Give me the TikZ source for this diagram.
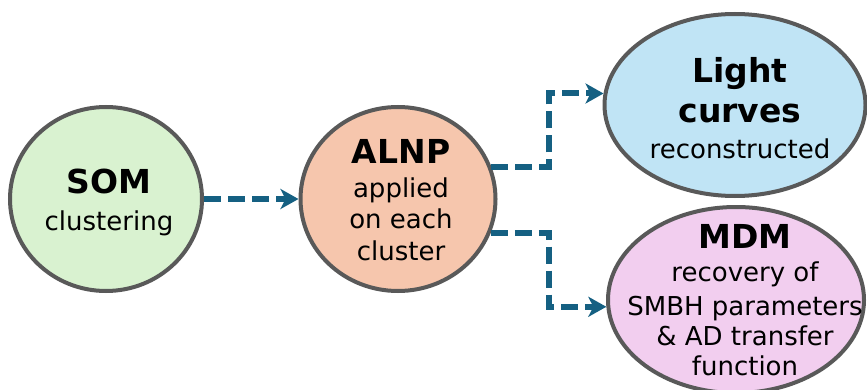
\documentclass[tikz,border=0pt]{standalone}
\usepackage{fontspec}
\setmainfont{DejaVu Sans}
\usetikzlibrary{arrows.meta,shapes.geometric}
\definecolor{somfill}{HTML}{D9F2D0}
\definecolor{alnpfill}{HTML}{F6C6AD}
\definecolor{lcfill}{HTML}{C0E4F5}
\definecolor{mdmfill}{HTML}{F2CEEF}
\definecolor{edgegray}{HTML}{595959}
\definecolor{flowblue}{HTML}{156082}

\begin{document}
\begin{tikzpicture}[x=1pt,y=1pt,
  blob/.style={ellipse, draw=edgegray, line width=4pt, inner sep=0pt},
  head/.style={anchor=base, inner sep=0pt, font=\fontsize{33}{36}\selectfont\bfseries},
  body/.style={anchor=base, inner sep=0pt, font=\fontsize{26}{30}\selectfont},
  flow/.style={draw=flowblue, line width=6pt, line join=miter,
    dash pattern=on 17pt off 7pt,
    -{Stealth[length=18pt,width=20pt,inset=5pt]}}]
\useasboundingbox (0,0) rectangle (867,389);

% stages
\node[blob, fill=somfill,  minimum width=192pt, minimum height=184pt] (som)  at (106,190) {};
\node[blob, fill=alnpfill, minimum width=195pt, minimum height=184pt] (alnp) at (398,190) {};
\node[blob, fill=lcfill,   minimum width=261pt, minimum height=182pt] (lc)   at (735,284) {};
\node[blob, fill=mdmfill,  minimum width=256pt, minimum height=186pt] (mdm)  at (736,89) {};

% labels
\node[head] (somA) at (109,196) {SOM};
\node[body] (somB) at (109,159) {clustering};

\node[head] (alnpA) at (401,226) {ALNP};
\node[body] (alnpB) at (401,192) {applied};
\node[body] (alnpC) at (401,161) {on each};
\node[body] (alnpD) at (401,129) {cluster};

\node[head] (lcA) at (740,306) {Light};
\node[head] (lcB) at (740,266) {curves};
\node[body] (lcC) at (740,231) {reconstructed};

\node[head] (mdmA) at (745,141) {MDM};
\node[body] (mdmB) at (745,108) {recovery of};
\node[body] (mdmC) at (745,74)  {SMBH parameters};
\node[body] (mdmD) at (745,44)  {\& AD transfer};
\node[body] (mdmE) at (745,14)  {function};

% connectors
\coordinate (split) at (549,0);
\draw[flow] (som.east) -- (alnp.west);
\draw[flow] (alnp.19) -| (split |- lc.175) -- (lc.175);
\draw[flow] (alnp.-20) -| (split |- mdm.183) -- (mdm.183);
\end{tikzpicture}
\end{document}
